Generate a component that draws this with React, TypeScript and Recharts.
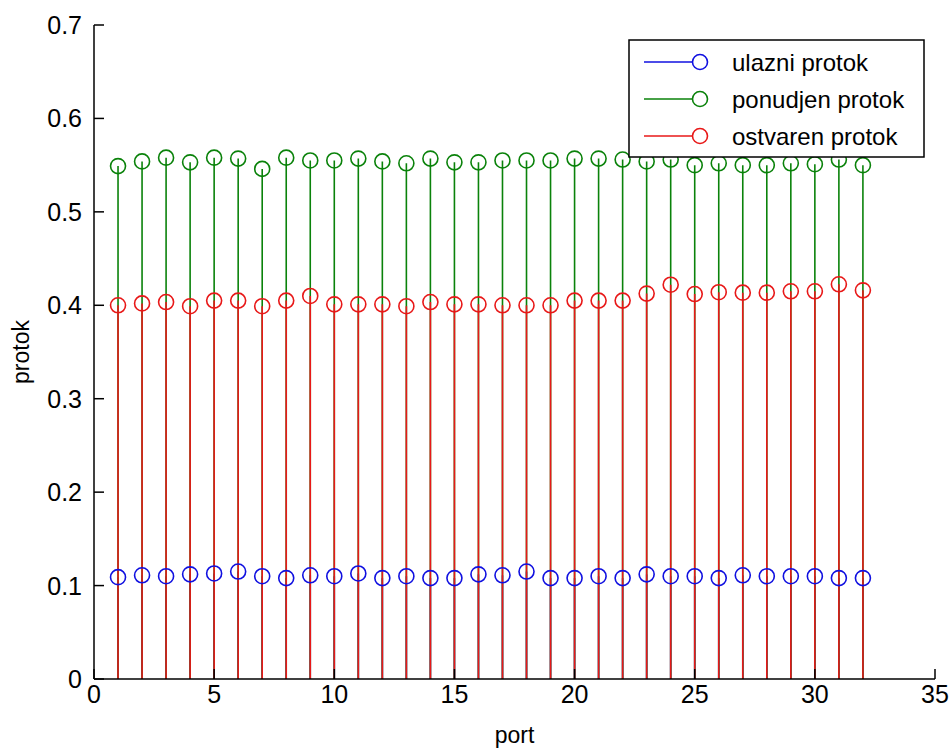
import React from "react";
import { ComposedChart, Scatter, ErrorBar, XAxis, YAxis } from "recharts";

// stem plot: protok po portu
const ports = [1, 2, 3, 4, 5, 6, 7, 8, 9, 10, 11, 12, 13, 14, 15, 16, 17, 18, 19, 20, 21, 22, 23, 24, 25, 26, 27, 28, 29, 30, 31, 32];
const ulazni = [0.109, 0.111, 0.110, 0.112, 0.113, 0.115, 0.110, 0.108, 0.111, 0.110, 0.113, 0.108, 0.110, 0.108, 0.108, 0.112, 0.111, 0.115, 0.108, 0.108, 0.110, 0.108, 0.112, 0.110, 0.110, 0.108, 0.111, 0.110, 0.110, 0.110, 0.108, 0.108];
const ponudjen = [0.549, 0.554, 0.558, 0.553, 0.558, 0.557, 0.546, 0.558, 0.555, 0.555, 0.557, 0.554, 0.552, 0.557, 0.553, 0.553, 0.555, 0.555, 0.555, 0.557, 0.557, 0.556, 0.554, 0.556, 0.550, 0.552, 0.550, 0.550, 0.552, 0.551, 0.556, 0.550];
const ostvaren = [0.400, 0.402, 0.4035, 0.399, 0.405, 0.405, 0.399, 0.405, 0.410, 0.401, 0.401, 0.401, 0.399, 0.4035, 0.401, 0.401, 0.400, 0.400, 0.400, 0.405, 0.405, 0.405, 0.4125, 0.422, 0.412, 0.414, 0.4135, 0.4135, 0.415, 0.415, 0.4225, 0.416];
const xTicks = [0, 5, 10, 15, 20, 25, 30, 35];
const yTicks = [0, 0.1, 0.2, 0.3, 0.4, 0.5, 0.6, 0.7];

const BLUE = "#1010e0";
const GREEN = "#0a820a";
const RED = "#e81818";
const FONT = "'Liberation Sans', Arial, sans-serif";
const TICK = 10; // inward tick length, matlab style

const series = [
  { name: "ulazni protok", values: ulazni, color: BLUE },
  { name: "ponudjen protok", values: ponudjen, color: GREEN },
  { name: "ostvaren protok", values: ostvaren, color: RED },
];

const toRows = (values: number[]) => ports.map((p, i) => ({ port: p, v: values[i] }));
const stem = (d: { v: number }) => [d.v, 0];

function Marker(color: string) {
  return (props: any) => (
    <circle cx={props.cx} cy={props.cy} r={7.5} fill="none" stroke={color} strokeWidth={1.6} />
  );
}

// tick renderers: label position comes from recharts, tick mark drawn inward from the axis
const LeftTick = (props: any) => {
  const { x, y, payload } = props;
  const v = payload.value;
  return (
    <g>
      <line x1={x + 12} x2={x + 12 + TICK} y1={y} y2={y} stroke="#000" strokeWidth={1.5} />
      <text x={x} y={y} dy="0.36em" textAnchor="end" fontSize={25} fontFamily={FONT} fill="#000">
        {v === 0 ? "0" : v.toFixed(1)}
      </text>
    </g>
  );
};

const BottomTick = (props: any) => {
  const { x, y, payload } = props;
  return (
    <g>
      <line x1={x} x2={x} y1={y - 6} y2={y - 6 - TICK} stroke="#000" strokeWidth={1.5} />
      <text x={x} y={y} dy="0.71em" textAnchor="middle" fontSize={25} fontFamily={FONT} fill="#000">
        {payload.value}
      </text>
    </g>
  );
};

const TopTick = (props: any) => (
  <line x1={props.x} x2={props.x} y1={props.y + 2} y2={props.y + 2 + TICK} stroke="#000" strokeWidth={1.5} />
);

const RightTick = (props: any) => (
  <line x1={props.x - 2} x2={props.x - 2 - TICK} y1={props.y} y2={props.y} stroke="#000" strokeWidth={1.5} />
);

function LegendBox() {
  // row centres, local to the legend svg
  const rows = [24, 61, 98];
  return (
    <svg width={300} height={122} style={{ position: "absolute", left: 627, top: 38 }}>
      <rect x={2} y={2} width={295} height={117} fill="#fff" stroke="#000" strokeWidth={1.5} />
      {series.map((s, i) => (
        <g key={s.name}>
          <line x1={17} x2={66} y1={rows[i]} y2={rows[i]} stroke={s.color} strokeWidth={1.6} />
          <circle cx={73} cy={rows[i]} r={7.5} fill="none" stroke={s.color} strokeWidth={1.6} />
          <text x={105} y={rows[i] + 9} fontSize={24} fontFamily={FONT} fill="#000">{s.name}</text>
        </g>
      ))}
    </svg>
  );
}

export default function App() {
  return (
    <div style={{ position: "absolute", left: 0, top: 0, width: 952, height: 748, background: "#fff" }}>
      <ComposedChart width={952} height={748} margin={{ top: 25, right: 17, bottom: 0, left: 0 }}>
        <XAxis
          dataKey="port"
          type="number"
          domain={[0, 35]}
          ticks={xTicks}
          allowDataOverflow
          height={69}
          tickSize={0}
          tickMargin={6}
          tick={BottomTick}
          tickLine={false}
          axisLine={{ stroke: "#000", strokeWidth: 1.5 }}
          label={{ value: "port", position: "insideBottom", offset: 5, style: { fill: "#000", fontSize: 23, fontFamily: FONT } }}
        />
        <XAxis
          xAxisId="top"
          orientation="top"
          type="number"
          domain={[0, 35]}
          ticks={xTicks}
          allowDataOverflow
          height={0}
          tickSize={0}
          tickMargin={2}
          tick={TopTick}
          tickLine={false}
          axisLine={{ stroke: "#000", strokeWidth: 1.5 }}
        />
        <YAxis
          dataKey="v"
          type="number"
          domain={[0, 0.7]}
          ticks={yTicks}
          allowDataOverflow
          width={94}
          tickSize={0}
          tickMargin={12}
          tick={LeftTick}
          tickLine={false}
          axisLine={{ stroke: "#000", strokeWidth: 1.5 }}
          label={{ value: "protok", angle: -90, position: "insideLeft", offset: 21, style: { fill: "#000", fontSize: 23, fontFamily: FONT, textAnchor: "middle" } }}
        />
        <YAxis
          yAxisId="right"
          orientation="right"
          type="number"
          domain={[0, 0.7]}
          ticks={yTicks}
          allowDataOverflow
          width={0}
          tickSize={0}
          tickMargin={2}
          tick={RightTick}
          tickLine={false}
          axisLine={{ stroke: "#000", strokeWidth: 1.5 }}
        />
        {series.map((s) => (
          <Scatter
            key={s.name}
            name={s.name}
            data={toRows(s.values)}
            dataKey="v"
            shape={Marker(s.color)}
            isAnimationActive={false}
          >
            <ErrorBar dataKey={stem} direction="y" width={0} stroke={s.color} strokeWidth={1.6} isAnimationActive={false} />
          </Scatter>
        ))}
      </ComposedChart>
      <LegendBox />
    </div>
  );
}
